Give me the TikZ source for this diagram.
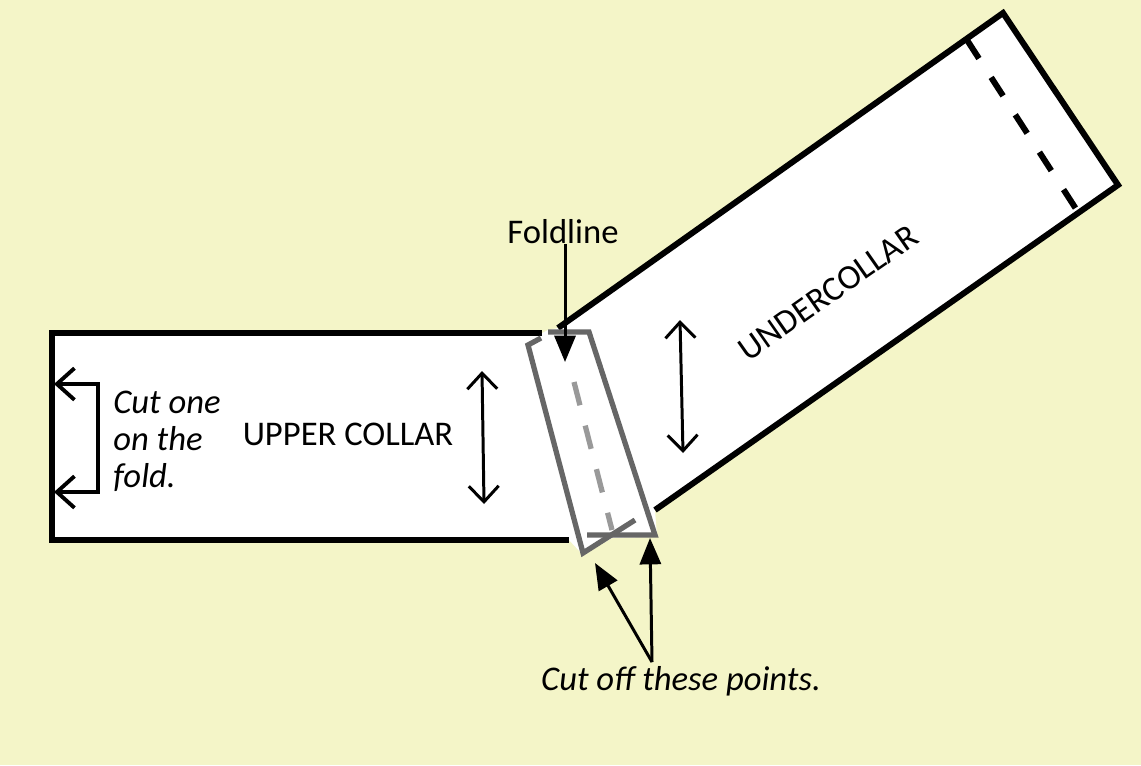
\documentclass[tikz,border=0pt]{standalone}
\usepackage{fontspec}
\setmainfont{Carlito}
\usepackage{tikz}
\usetikzlibrary{arrows.meta}
\definecolor{paper}{HTML}{F4F5C8}
\definecolor{flap}{HTML}{666666}
\definecolor{foldgray}{HTML}{999999}
\tikzset{
  edge/.style={line width=3.4pt,line cap=butt,line join=miter},
  flapedge/.style={line width=3pt,color=flap,line join=miter},
  grain/.style={line width=1.7pt,{Straight Barb[length=9pt,width=17pt]}-{Straight Barb[length=9pt,width=17pt]}},
  pointer/.style={line width=1.7pt,-{Triangle[length=15pt,width=12pt]}},
  label/.style={font=\fontsize{19.7}{23}\selectfont,inner sep=0pt},
  note/.style={font=\fontsize{19.7}{23}\selectfont\itshape,inner sep=0pt}
}
\begin{document}
\begin{tikzpicture}[x=0.02cm,y=-0.02cm]
   \fill[paper] (0,0) rectangle (1141,765);
   \useasboundingbox (0,0) rectangle (1141,765);

   % white pieces
   \fill[white] (52,333) -- (542,333) -- (548,330) -- (558,328) -- (1003,13) -- (1118,185) -- (655,510) -- (657,537) -- (612,538) -- (583,555) -- (569,540) -- (52,540) -- cycle;

   % upper collar
   \draw[edge] (542,333) -- (52,333) -- (52,540) -- (569,540);

   % undercollar
   \draw[edge] (558,328) -- (1003,13) -- (1118,185) -- (655,510);
   \draw[edge,dash pattern=on 0.44cm off 0.45cm] (967,40) -- (1078,212);

   % overlap
   \draw[flapedge] (548,332) -- (589,332) -- (655,535) -- (587,535);
   \draw[flapedge] (541,338) -- (528,345) -- (583,553) -- (635,520);
   \draw[line width=3pt,color=foldgray,dash pattern=on 0.48cm off 0.42cm] (574,382) -- (612,530);

   % cut on fold
   \coordinate (foldtop) at (54,384);
   \coordinate (foldbot) at (54,492);
   \draw[line width=2.2pt,{Straight Barb[length=10pt,width=18pt]}-{Straight Barb[length=10pt,width=18pt]}] (foldtop) -- (98,384) -- (98,492) -- (foldbot);
   \node[note,anchor=west] (cutone) at (113,402) {Cut one};
   \node[note,anchor=west] (onthe) at (113,439) {on the};
   \node[note,anchor=west] (fold) at (113,477) {fold.};

   % grain lines
   \coordinate (uppertop) at (482,371);
   \coordinate (upperbot) at (484,504);
   \draw[grain] (uppertop) -- (upperbot);
   \coordinate (undertop) at (680,320);
   \coordinate (underbot) at (683,453);
   \draw[grain] (undertop) -- (underbot);

   \node[label] (upper) at (348,434) {UPPER COLLAR};
   \node[label,rotate=35] (under) at (828,293) {UNDERCOLLAR};

   % pointers
   \node[label] (foldline) at (563,232) {Foldline};
   \coordinate (foldtip) at (565,362);
   \draw[pointer] (foldline.south -| foldtip) -- (foldtip);

   \node[note] (cutoff) at (681,681) {Cut off these points.};
   \coordinate (apex) at (652,662);
   \coordinate (tipa) at (595,563);
   \coordinate (tipb) at (650,538);
   \draw[pointer] (apex) -- (tipa);
   \draw[pointer] (apex) -- (tipb);
\end{tikzpicture}
\end{document}
